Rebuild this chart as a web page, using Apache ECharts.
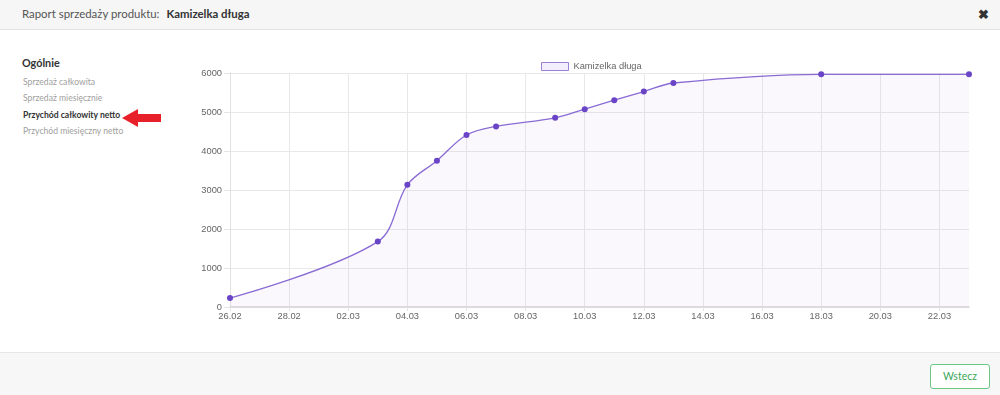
<!DOCTYPE html>
<html><head><meta charset="utf-8">
<script src="https://cdn.jsdelivr.net/npm/echarts@6/dist/echarts.min.js"></script>
<style>
html,body{margin:0;padding:0;width:1000px;height:395px;overflow:hidden;background:#fff;font-family:Lato,"Noto Sans",sans-serif;}
#hdr{position:absolute;left:0;top:0;width:1000px;height:29px;background:#f6f6f6;border-bottom:1px solid #e2e2e2;}
#hdr .t{position:absolute;left:22px;top:7px;font-size:11.4px;color:#555;}
#hdr .t b{color:#333;margin-left:4px;font-weight:700;}
#hdr .x{position:absolute;left:978px;top:6px;font-size:13px;color:#333;font-weight:700;}
#menu{position:absolute;left:22px;top:56px;}
#menu .h{font-size:10.8px;color:#333;font-weight:700;height:18px;}
#menu .i{font-size:8.6px;color:#a0a0a0;height:16.4px;line-height:16px;margin-left:1px;}
#menu .i.a{color:#333;font-weight:700;}
#arrow{position:absolute;left:120px;top:108px;}
#foot{position:absolute;left:0;top:352px;width:1000px;height:43px;background:#f7f7f7;border-top:1px solid #e6e6e6;}
#btn{position:absolute;left:930px;top:11px;width:58px;height:23px;border:1px solid #6cc886;border-radius:3px;background:#fff;color:#3aa75a;font-size:10.5px;text-align:center;line-height:23px;}
#chart{position:absolute;left:180px;top:45px;width:800px;height:295px;}
</style></head>
<body>
<div id="hdr"><div class="t">Raport sprzedaży produktu: <b>Kamizelka długa</b></div><div class="x">✖</div></div>
<div id="menu">
<div class="h">Ogólnie</div>
<div class="i">Sprzedaż całkowita</div>
<div class="i">Sprzedaż miesięcznie</div>
<div class="i a">Przychód całkowity netto</div>
<div class="i">Przychód miesięczny netto</div>
</div>
<svg id="arrow" width="44" height="20" viewBox="0 0 44 20"><polygon points="2,10 18,1 18,6 41,6 41,14 18,14 18,19" fill="#e8202a"/></svg>
<div id="chart"></div>
<div id="foot"><div id="btn">Wstecz</div></div>
<script>
const seriesName = 'Kamizelka długa';
const dates = ['2019-02-26','2019-03-03','2019-03-04','2019-03-05','2019-03-06','2019-03-07','2019-03-09','2019-03-10','2019-03-11','2019-03-12','2019-03-13','2019-03-18','2019-03-23'];
const values = [230, 1677, 3133, 3753, 4409, 4631, 4851, 5073, 5302, 5525, 5744, 5966, 5966];
const startDate = '2019-02-26';
const endDate = '2019-03-23';

const DAY = 86400000;
const t0 = Date.parse(startDate + 'T00:00:00Z');
const dayIdx = d => Math.round((Date.parse(d + 'T00:00:00Z') - t0) / DAY);
const fmt = v => { const d = new Date(t0 + v * DAY); return String(d.getUTCDate()).padStart(2,'0') + '.' + String(d.getUTCMonth()+1).padStart(2,'0'); };
const data = dates.map((d,i) => [dayIdx(d), values[i]]);

const chart = echarts.init(document.getElementById('chart'));
const txt = {color:'#666', fontSize:9.3, fontFamily:'"Liberation Sans", Arial, sans-serif'};
chart.setOption({
  animation:false,
  legend:{top:12, left:356, itemWidth:27, itemHeight:8, itemGap:5, textStyle:txt,
    data:[{name:seriesName, icon:'rect', itemStyle:{color:'#f3eefb', borderColor:'#9c7fd8', borderWidth:1}}]},
  grid:{left:50, right:11, top:28, bottom:33},
  xAxis:{type:'value', min:0, max:dayIdx(endDate), interval:2,
    axisLine:{show:true, lineStyle:{color:'#d6d6d6', width:1.5}},
    axisTick:{show:true, length:4, lineStyle:{color:'#e5e5e5'}},
    axisLabel:Object.assign({formatter:fmt, margin:5, showMaxLabel:false}, txt),
    splitLine:{show:true, showMaxLine:false, lineStyle:{color:'#e8e8e8'}}},
  yAxis:{type:'value', min:0, max:6000, interval:1000,
    axisLine:{show:true, lineStyle:{color:'#e0e0e0'}},
    axisTick:{show:true, length:6, lineStyle:{color:'#e5e5e5'}},
    axisLabel:Object.assign({margin:8, formatter: v => String(v)}, txt),
    splitLine:{show:true, lineStyle:{color:'#e8e8e8'}}},
  series:[{name:seriesName, type:'line', data:data, smooth:0.35,
    symbol:'circle', symbolSize:6,
    itemStyle:{color:'#6a44c6'},
    lineStyle:{color:'#8a6bd4', width:1.3},
    areaStyle:{color:'rgba(150,110,220,0.07)'}}]
});
</script>
</body></html>
